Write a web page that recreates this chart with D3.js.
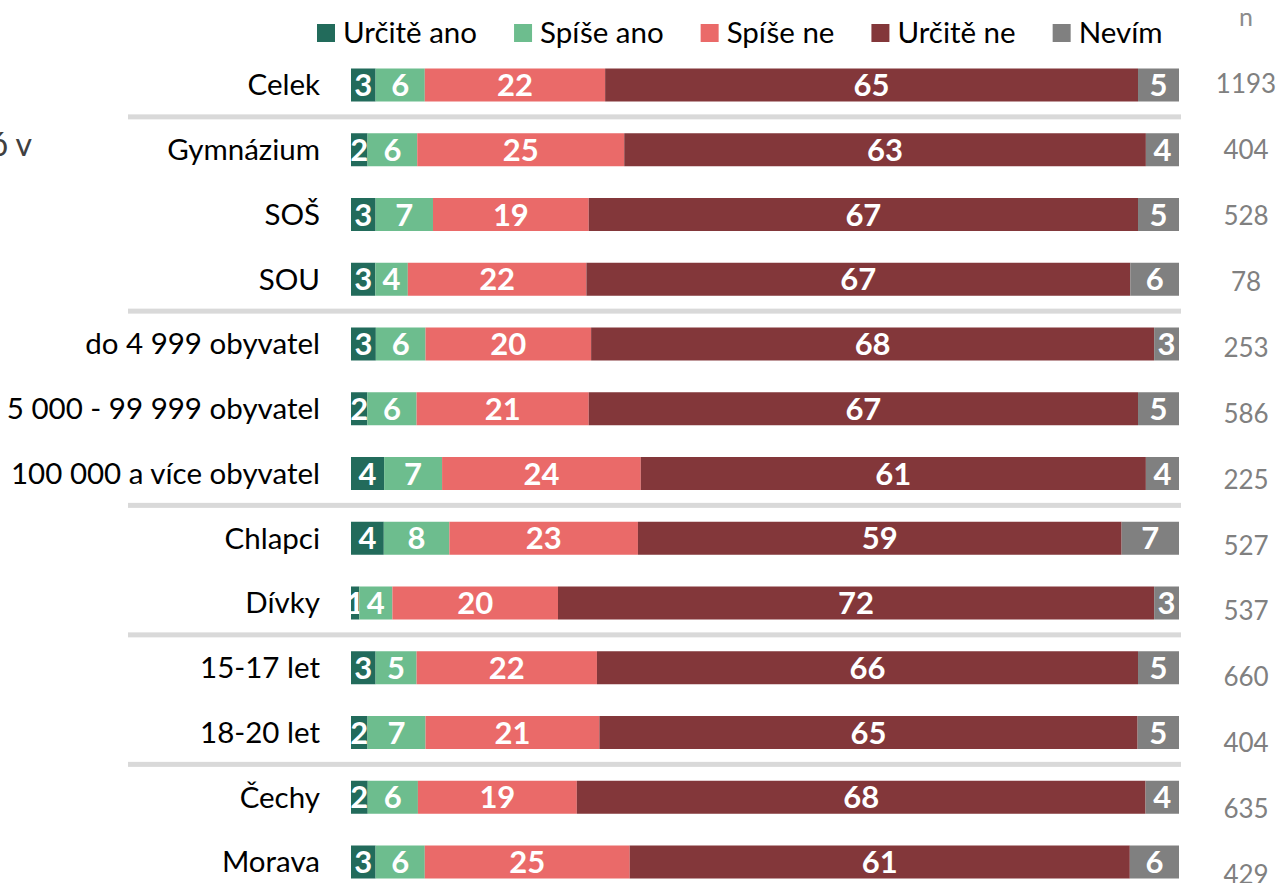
<!DOCTYPE html>
<html><head><meta charset="utf-8">
<script src="https://cdn.jsdelivr.net/npm/d3@7"></script>
<style>body{margin:0;background:#fff;} svg{display:block;font-family:Lato,Carlito,"Noto Sans",sans-serif;}</style>
</head><body><svg id="c" width="1278" height="883"></svg>
<script>
const categories = ["Celek","Gymnázium","SOŠ","SOU","do 4 999 obyvatel","5 000 - 99 999 obyvatel","100 000 a více obyvatel","Chlapci","Dívky","15-17 let","18-20 let","Čechy","Morava"];
const seriesNames = ["Určitě ano","Spíše ano","Spíše ne","Určitě ne","Nevím"];
const urciteAno = [3,2,3,3,3,2,4,4,1,3,2,2,3];
const spiseAno  = [6,6,7,4,6,6,7,8,4,5,7,6,6];
const spiseNe   = [22,25,19,22,20,21,24,23,20,22,21,19,25];
const urciteNe  = [65,63,67,67,68,67,61,59,72,66,65,68,61];
const nevim     = [5,4,5,6,3,5,4,7,3,5,5,4,6];
const nValues   = [1193,404,528,78,253,586,225,527,537,660,404,635,429];
const separatorsAfter = [0,3,6,8,10];
const colors = ["#226b5b","#6dbd8e","#ea6a69","#83373a","#808080"];

const seriesArrays = [urciteAno, spiseAno, spiseNe, urciteNe, nevim];
const rows = categories.map((c,i)=>{
  const o = {cat:c};
  seriesNames.forEach((s,k)=>o[s]=seriesArrays[k][i]);
  return o;
});

const svg = d3.select("#c");
const x = d3.scaleLinear().domain([0,1]).range([351,1179]);
const y = d3.scalePoint().domain(categories).range([85,862]);
const yN = d3.scalePoint().domain(categories).range([84,875]);
const barH = 33;
const color = d3.scaleOrdinal().domain(seriesNames).range(colors);

const stack = d3.stack().keys(seriesNames).offset(d3.stackOffsetExpand);
const stacked = stack(rows);

// separators
const step = y.step();
svg.append("g").selectAll("rect").data(separatorsAfter).join("rect")
  .attr("x",128).attr("width",1181-128)
  .attr("y",d=>y(categories[d])+step/2-3).attr("height",5)
  .attr("fill","#d9d9d9");

// bars
const g = svg.append("g");
stacked.forEach(layer=>{
  const lg = g.append("g").attr("fill",color(layer.key));
  lg.selectAll("rect").data(layer).join("rect")
    .attr("x",d=>x(d[0])).attr("width",d=>x(d[1])-x(d[0]))
    .attr("y",d=>y(d.data.cat)-barH/2).attr("height",barH);
  g.append("g").selectAll("text").data(layer).join("text")
    .attr("x",d=>(x(d[0])+x(d[1]))/2)
    .attr("y",d=>y(d.data.cat))
    .attr("dy","0.36em")
    .attr("text-anchor","middle")
    .attr("fill","#fff").attr("font-weight","bold").attr("font-size",31)
    .text(d=>d.data[layer.key]);
});

// category labels (axis)
const yAxis = d3.axisLeft(y).tickSize(0).tickPadding(0);
const ax = svg.append("g").attr("transform","translate(320,0)").call(yAxis);
ax.select(".domain").remove();
ax.selectAll("text").attr("font-size",29.5).attr("fill","#000").attr("font-family","Lato,Carlito,sans-serif").attr("dy","0.33em");

// n column
svg.append("text").attr("x",1246).attr("y",26).attr("text-anchor","middle")
  .attr("fill","#8c8c8c").attr("font-size",25).text("n");
svg.append("g").selectAll("text").data(categories).join("text")
  .attr("x",1246).attr("y",d=>yN(d)).attr("dy","0.35em").attr("text-anchor","middle")
  .attr("fill","#808080").attr("font-size",26)
  .text((d,i)=>nValues[i]);

// cut-off title fragment
svg.append("text").attr("x",32).attr("y",156).attr("text-anchor","end")
  .attr("fill","#404040").attr("font-size",32).text("ó v");

// legend
const leg = svg.append("g");
let lx = 317;
seriesNames.forEach((s,k)=>{
  leg.append("rect").attr("x",lx).attr("y",24).attr("width",18).attr("height",18).attr("fill",colors[k]);
  const t = leg.append("text").attr("x",lx+26).attr("y",33).attr("dy","0.35em")
    .attr("font-size",29.5).attr("fill","#000").text(s);
  lx += 26 + t.node().getComputedTextLength() + 37;
});
</script></body></html>
